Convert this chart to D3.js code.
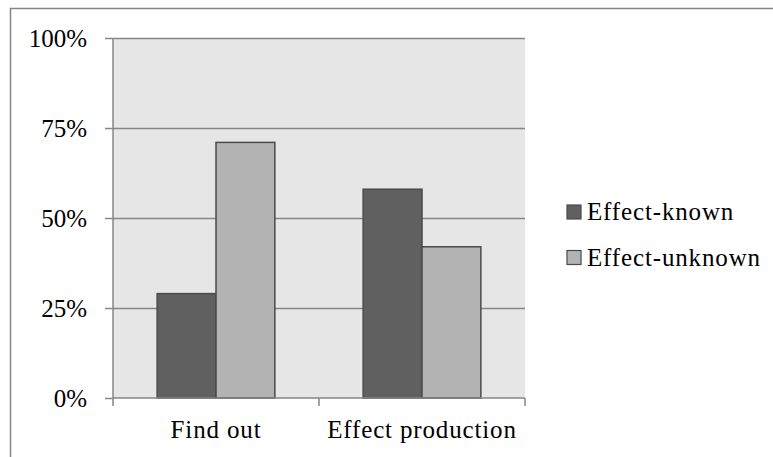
<!DOCTYPE html>
<html>
<head>
<meta charset="utf-8">
<script src="https://cdn.jsdelivr.net/npm/d3@7"></script>
<style>
  html, body { margin: 0; padding: 0; background: #fff; }
  svg { display: block; }
</style>
</head>
<body>
<svg id="chart" width="773" height="457"></svg>
<script>
// Share of responses per task type, split by whether the effect was known
const categories = ["Find out", "Effect production"];
const seriesNames = ["Effect-known", "Effect-unknown"];
const effectKnown = [29, 58];
const effectUnknown = [71, 42];
const yTicks = [0, 25, 50, 75, 100];
const seriesColors = ["#606060", "#b3b3b3"];

const svg = d3.select("#chart");
const W = 773, H = 457;
const plot = { left: 113, right: 525, top: 38, bottom: 398 };
const fontSize = 25;
const spacing = "0.85px";
const serif = "Liberation Serif";

// Outer chart frame
svg.append("rect")
  .attr("x", 10.5).attr("y", 8.5)
  .attr("width", W + 10).attr("height", H + 10)
  .attr("fill", "#fff").attr("stroke", "#868686").attr("stroke-width", 1.5);

const x0 = d3.scaleBand().domain(categories).range([plot.left, plot.right]).paddingInner(0).paddingOuter(0);
const x1 = d3.scaleBand().domain(seriesNames).range([0, x0.bandwidth()]).paddingInner(0).paddingOuter(0.75);
const y = d3.scaleLinear().domain([0, 100]).range([plot.bottom, plot.top]);

// Plot background
svg.append("rect")
  .attr("x", plot.left).attr("y", plot.top)
  .attr("width", plot.right - plot.left).attr("height", plot.bottom - plot.top)
  .attr("fill", "#e6e6e6");

// Horizontal gridlines
svg.append("g").selectAll("line").data(yTicks.filter(d => d > 0)).join("line")
  .attr("x1", plot.left).attr("x2", plot.right)
  .attr("y1", d => Math.round(y(d)) + 0.5).attr("y2", d => Math.round(y(d)) + 0.5)
  .attr("stroke", "#868686").attr("stroke-width", 1.5);

// Bars
const rows = categories.map((c, i) => ({ cat: c, values: [effectKnown[i], effectUnknown[i]] }));
const groups = svg.append("g").selectAll("g").data(rows).join("g")
  .attr("transform", d => `translate(${x0(d.cat)},0)`);
groups.selectAll("rect").data(d => d.values.map((v, j) => ({ name: seriesNames[j], v, j }))).join("rect")
  .attr("x", d => x1(d.name))
  .attr("y", d => y(d.v))
  .attr("width", x1.bandwidth())
  .attr("height", d => y(0) - y(d.v))
  .attr("fill", d => seriesColors[d.j])
  .attr("stroke", "#4a4a4a").attr("stroke-width", 1.5);

// Y axis
const yAxis = d3.axisLeft(y).tickValues(yTicks).tickFormat(d => d + "%").tickSize(8).tickPadding(18);
const gy = svg.append("g").attr("transform", `translate(${plot.left},0)`).call(yAxis);
gy.select(".domain").attr("stroke", "#868686").attr("stroke-width", 1.5).attr("d", `M0,${plot.top}V${plot.bottom}`);
gy.selectAll(".tick line").attr("stroke", "#868686").attr("stroke-width", 1.5);
gy.selectAll(".tick text")
  .style("font-family", serif).style("font-size", fontSize + "px").style("fill", "#000");

// X axis: category boundaries carry the tick marks
const xAxis = d3.axisBottom(x0).tickSize(0).tickPadding(22);
const gx = svg.append("g").attr("transform", `translate(0,${plot.bottom})`).call(xAxis);
gx.select(".domain").attr("stroke", "#868686").attr("stroke-width", 1.5).attr("d", `M${plot.left},0H${plot.right}`);
gx.selectAll(".tick text")
  .style("font-family", serif).style("font-size", fontSize + "px").style("fill", "#000")
  .style("letter-spacing", spacing);
const bounds = [plot.left, ...categories.map(c => x0(c) + x0.bandwidth())];
gx.selectAll(".boundary").data(bounds).join("line").attr("class", "boundary")
  .attr("x1", d => d).attr("x2", d => d).attr("y1", 0).attr("y2", 8)
  .attr("stroke", "#868686").attr("stroke-width", 1.5);

// Legend
const legend = svg.append("g").attr("transform", "translate(567,205)");
const items = legend.selectAll("g").data(seriesNames).join("g")
  .attr("transform", (d, i) => `translate(0,${i * 45.5})`);
items.append("rect")
  .attr("x", 0).attr("y", 0).attr("width", 14).attr("height", 14)
  .attr("fill", (d, i) => seriesColors[i]).attr("stroke", "#4a4a4a").attr("stroke-width", 1.2);
items.append("text")
  .attr("x", 20).attr("y", 15)
  .style("font-family", serif).style("font-size", fontSize + "px").style("fill", "#000")
  .style("letter-spacing", spacing)
  .text(d => d);
</script>
</body>
</html>
